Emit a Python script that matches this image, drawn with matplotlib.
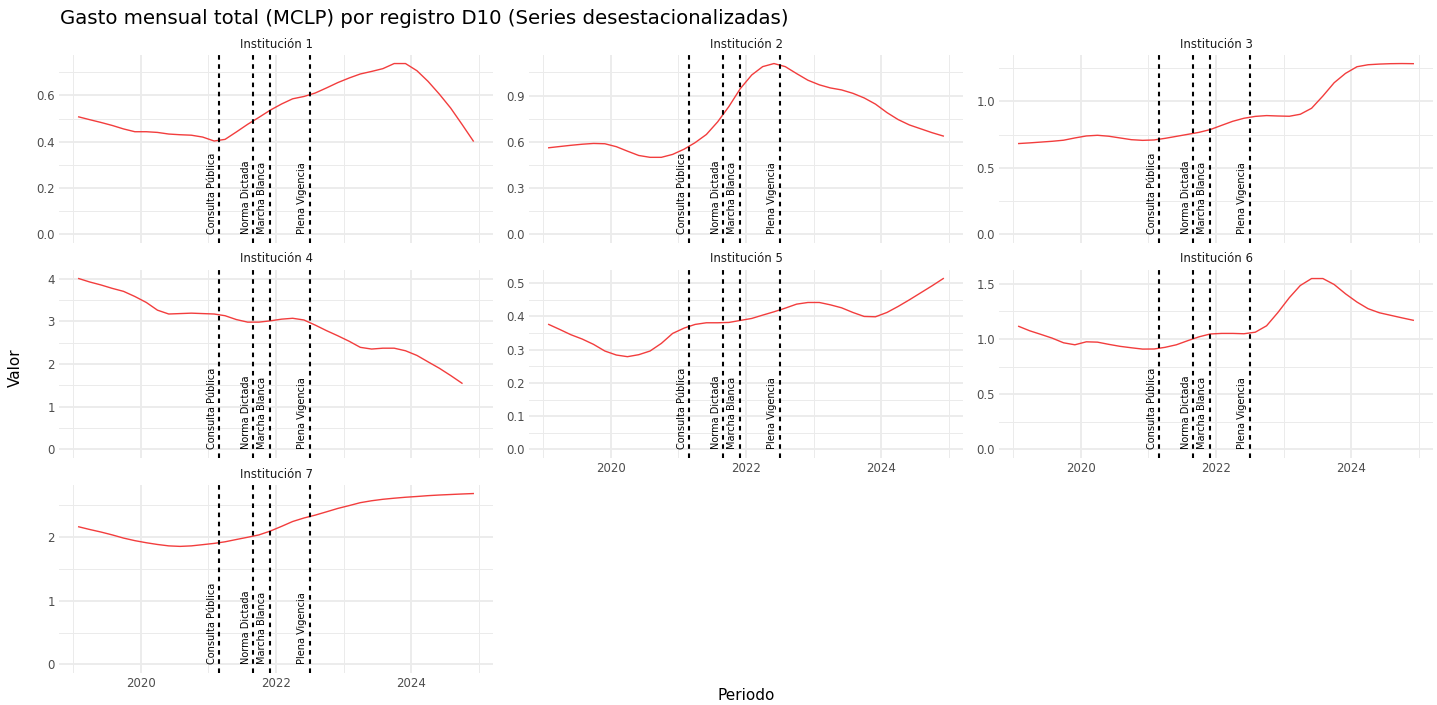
import numpy as np
import pandas as pd
import matplotlib
matplotlib.use("Agg")
import matplotlib.pyplot as plt
import matplotlib.dates as mdates
from matplotlib.ticker import MultipleLocator, FormatStrFormatter, NullFormatter

# bimonthly dates, Feb 2019 .. Dec 2024
fechas = pd.date_range("2019-02-01", "2024-12-01", freq="2MS")

instituciones = ["Institución 1", "Institución 2", "Institución 3", "Institución 4",
                 "Institución 5", "Institución 6", "Institución 7"]

inst1 = [0.507, 0.495, 0.483, 0.470, 0.455, 0.443, 0.443, 0.440, 0.433, 0.430, 0.428, 0.420,
         0.403, 0.410, 0.442, 0.475, 0.505, 0.536, 0.563, 0.585, 0.595, 0.610, 0.632, 0.655,
         0.675, 0.692, 0.703, 0.715, 0.737, 0.737, 0.706, 0.660, 0.605, 0.545, 0.475, 0.403]
inst2 = [0.562, 0.570, 0.578, 0.585, 0.590, 0.588, 0.569, 0.540, 0.512, 0.500, 0.500, 0.519,
         0.553, 0.595, 0.648, 0.730, 0.830, 0.945, 1.034, 1.088, 1.108, 1.088, 1.043, 1.000,
         0.970, 0.950, 0.937, 0.915, 0.885, 0.845, 0.790, 0.745, 0.710, 0.685, 0.660, 0.638]
inst3 = [0.683, 0.688, 0.694, 0.700, 0.708, 0.725, 0.740, 0.745, 0.738, 0.725, 0.712, 0.707,
         0.710, 0.722, 0.737, 0.752, 0.767, 0.788, 0.820, 0.850, 0.873, 0.887, 0.893, 0.890,
         0.888, 0.903, 0.948, 1.040, 1.140, 1.210, 1.260, 1.275, 1.280, 1.283, 1.284, 1.283]
inst4 = [4.00, 3.92, 3.85, 3.77, 3.70, 3.58, 3.44, 3.26, 3.17, 3.18, 3.19, 3.18,
         3.17, 3.13, 3.04, 2.98, 2.98, 3.01, 3.05, 3.07, 3.03, 2.91, 2.78, 2.66,
         2.53, 2.39, 2.35, 2.37, 2.37, 2.31, 2.20, 2.05, 1.90, 1.73, 1.55, np.nan]
inst5 = [0.376, 0.361, 0.345, 0.332, 0.316, 0.296, 0.284, 0.279, 0.285, 0.296, 0.319, 0.349,
         0.365, 0.376, 0.381, 0.381, 0.382, 0.388, 0.394, 0.404, 0.414, 0.425, 0.437, 0.442,
         0.442, 0.435, 0.426, 0.412, 0.400, 0.399, 0.412, 0.430, 0.450, 0.471, 0.492, 0.514]
inst6 = [1.115, 1.075, 1.042, 1.008, 0.966, 0.948, 0.975, 0.972, 0.952, 0.934, 0.921, 0.909,
         0.910, 0.925, 0.948, 0.985, 1.020, 1.046, 1.051, 1.051, 1.048, 1.062, 1.120, 1.240,
         1.375, 1.485, 1.548, 1.548, 1.494, 1.410, 1.335, 1.275, 1.238, 1.215, 1.192, 1.170]
inst7 = [2.157, 2.115, 2.075, 2.030, 1.980, 1.940, 1.907, 1.880, 1.858, 1.850, 1.858, 1.877,
         1.897, 1.922, 1.958, 1.993, 2.030, 2.090, 2.165, 2.240, 2.295, 2.340, 2.392, 2.445,
         2.490, 2.535, 2.565, 2.588, 2.605, 2.620, 2.632, 2.645, 2.655, 2.663, 2.671, 2.678]
series = [inst1, inst2, inst3, inst4, inst5, inst6, inst7]

# regulatory milestones
hitos = ["Consulta Pública", "Norma Dictada", "Marcha Blanca", "Plena Vigencia"]
hitos_fecha = pd.to_datetime(["2021-03-01", "2021-09-01", "2021-12-01", "2022-07-01"])

# y tick spacing per panel
y_paso = [0.2, 0.3, 0.5, 1, 0.1, 0.5, 1]

GRID = "#ebebeb"
TXT = "#4d4d4d"

fig = plt.figure(figsize=(14.37, 7.05), dpi=100)
W, H = 1437, 705
col_left = [59, 529, 999]
row_top = [55, 270, 485]
pw, ph = 434, 188

x0 = mdates.date2num(fechas[0])
x1 = mdates.date2num(fechas[-1])
pad = 0.05 * (x1 - x0)

for i, (nombre, vals) in enumerate(zip(instituciones, series)):
    r, c = divmod(i, 3)
    ax = fig.add_axes([col_left[c] / W, 1 - (row_top[r] + ph) / H, pw / W, ph / H])
    vals = np.array(vals, dtype=float)
    ymax = np.nanmax(vals)
    ax.set_xlim(x0 - pad, x1 + pad)
    ax.set_ylim(-0.05 * ymax, 1.05 * ymax)

    for s in ax.spines.values():
        s.set_visible(False)
    ax.xaxis.set_major_locator(mdates.YearLocator(2))
    ax.xaxis.set_minor_locator(mdates.YearLocator(1))
    ax.xaxis.set_major_formatter(mdates.DateFormatter("%Y"))
    ax.yaxis.set_major_locator(MultipleLocator(y_paso[i]))
    ax.yaxis.set_minor_locator(MultipleLocator(y_paso[i] / 2))
    ax.yaxis.set_major_formatter(FormatStrFormatter("%.1f" if y_paso[i] < 1 else "%d"))
    ax.grid(which="major", color=GRID, lw=1.3, zorder=0)
    ax.grid(which="minor", color=GRID, lw=0.7, zorder=0)
    ax.tick_params(which="both", length=0, labelsize=8.5, labelcolor=TXT, pad=3)
    if i < 4:
        ax.xaxis.set_major_formatter(NullFormatter())

    ax.plot(fechas, vals, color="#f23d3d", lw=1.0, zorder=3)

    for etiqueta, f in zip(hitos, hitos_fecha):
        ax.axvline(f, color="black", lw=1.5, linestyle=(0, (2.2, 2.2)), zorder=4)
        ax.annotate(etiqueta, xy=(f, 0), xytext=(-2, 0), textcoords="offset points",
                    rotation=90, ha="right", va="bottom", fontsize=7,
                    family=["Liberation Sans Narrow", "DejaVu Sans"], color="black", zorder=5)

    fig.text((col_left[c] + pw / 2) / W, 1 - (row_top[r] - 11) / H, nombre,
             ha="center", va="center", fontsize=8.5, color="#1a1a1a")

fig.text(60 / W, 1 - 18 / H, "Gasto mensual total (MCLP) por registro D10 (Series desestacionalizadas)",
         ha="left", va="center", fontsize=14.2, color="black")
fig.text(746 / W, 1 - 696 / H, "Periodo", ha="center", va="center", fontsize=11)
fig.text(15 / W, 1 - 368 / H, "Valor", ha="center", va="center", fontsize=11, rotation=90)

fig.savefig("out.png", dpi=100, facecolor="white")
